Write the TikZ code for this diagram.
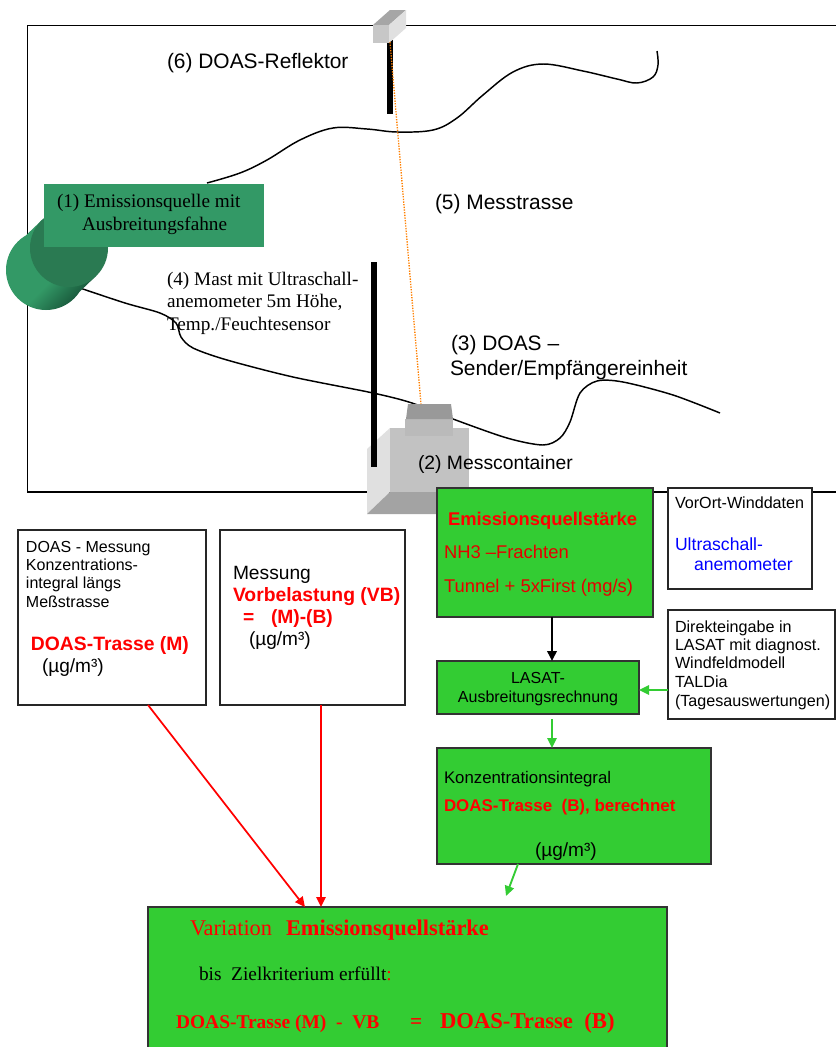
\documentclass[tikz,border=0pt]{standalone}
\usepackage{fontspec}
\setmainfont{Liberation Serif}
\setsansfont{Liberation Sans}
\usetikzlibrary{arrows.meta,calc}
\definecolor{tealg}{HTML}{339966}
\definecolor{boxg}{HTML}{33CC33}
\definecolor{cylm}{HTML}{339966}
\definecolor{cylb}{HTML}{1B5E3F}
\definecolor{cylf}{HTML}{2A7A52}
\pgfdeclarehorizontalshading{cylshade}{100bp}{color(0bp)=(cylm); color(56bp)=(cylm); color(72bp)=(cylb); color(100bp)=(cylb)}
\tikzset{
 x=0.75pt,y=-0.75pt,
 lbl/.style={anchor=base west,inner sep=0pt,outer sep=0pt,align=left},
 clbl/.style={anchor=base,inner sep=0pt,outer sep=0pt,align=center},
 sf/.style={font=\sffamily\fontsize{#1}{#1}\selectfont},
 rm/.style={font=\rmfamily\fontsize{#1}{#1}\selectfont},
 bsf/.style={font=\sffamily\bfseries\fontsize{#1}{#1}\selectfont},
 brm/.style={font=\rmfamily\bfseries\fontsize{#1}{#1}\selectfont},
 wbox/.style={draw=black!85,fill=white,line width=0.85pt},
 gbox/.style={draw=black!80,fill=boxg,line width=0.85pt},
 tip/.style={-{Triangle[length=7.5pt,width=7pt]}},
 redarrow/.style={tip,draw=red,line width=1.3pt},
 greenarrow/.style={tip,draw=boxg,line width=1.4pt},
 blackarrow/.style={tip,draw=black,line width=1.8pt},
 wave/.style={draw=black,line width=1.1pt},
 pole/.style={fill=black,draw=none},
}
\newcommand{\pbox}[6]{\node[#6,rectangle,inner sep=0pt,outer sep=0pt,minimum width={0.75pt*(#4-#2)},minimum height={0.75pt*(#5-#3)}] (#1) at ({(#2+#4)/2},{(#3+#5)/2}) {};}
\begin{document}
\begin{tikzpicture}
\useasboundingbox (0,0) rectangle (836,1047);
\clip (0,0) rectangle (836,1047);
\fill[white] (0,0) rectangle (836,1047);
% site frame
\draw[black,line width=1.1pt] (850,25.5) -- (27.5,25.5) -- (27.5,492) -- (850,492);
% plume curves
\draw[wave] plot[smooth,tension=0.6] coordinates {(207,183) (240,173) (267,160) (300,140) (333,128) (367,129) (397,132) (433,130) (457,118) (483,95) (513,72) (543,64) (583,71) (617,79) (637,83) (653,77) (658,65) (657,51)};
\draw[wave] plot[smooth,tension=0.5] coordinates {(77,287) (125,303) (160,313) (176,323) (181,337) (193,348) (227,360) (293,377) (373,393) (412,403) (453,419) (507,438) (543,445) (560,438) (570,422) (580,393) (597,381) (623,382) (673,395) (720,413)};
% source cylinder
\shade[shading=cylshade,shading angle=-45]
  (46,270) circle[radius=40]
  (19,242) -- (42,220) -- (96,276) -- (73,298) -- cycle;
\fill[cylf] (69,248) circle[radius=39];
\pbox{src}{44}{184}{264}{247}{fill=tealg}
% reflector
\fill[pole] (387,40) rectangle (393,114);
\fill[black!35] (373,25) -- (390,10) -- (406,10) -- (389,25) -- cycle;
\fill[black!12] (389,25) -- (406,10) -- (406,28) -- (389,43) -- cycle;
\fill[black!22] (373,25) rectangle (389,43);
% container
\fill[black!12] (367,449) -- (390,428) -- (390,492) -- (367,514) -- cycle;
\fill[black!36] (367,514) -- (390,492) -- (469,492) -- (469,514) -- cycle;
\fill[black!24] (390,428) rectangle (469,492);
\fill[black!27] (405,419) rectangle (453,436);
\fill[black!40] (406,419) -- (408,404) -- (451,404) -- (453,419) -- cycle;
% mast
\fill[pole] (371,262) rectangle (377,467);
% measurement path
\coordinate (refl) at (390,42);
\coordinate (sender) at (421,404);
\draw[orange,line width=1pt,densely dotted] (refl) -- (sender);
% boxes
\pbox{doas}{18}{530}{206}{705}{wbox}
\pbox{mess}{220}{530}{405}{705}{wbox}
\pbox{emis}{437}{488}{653}{617}{gbox}
\pbox{wind}{668}{488}{812}{589}{wbox}
\pbox{dire}{668}{610}{835}{719}{wbox}
\pbox{lasat}{437}{661}{639}{714}{gbox}
\pbox{konz}{437}{748}{711}{864}{gbox}
\pbox{vari}{148}{907}{667}{1070}{gbox}
% connectors
\draw[blackarrow] (emis.south -| 552,0) -- (lasat.north -| 552,0);
\draw[greenarrow] (dire.west |- 0,690) -- (lasat.east |- 0,690);
\coordinate (lasatout) at (552,719);
\draw[greenarrow] (lasatout) -- (konz.north -| 552,0);
\coordinate (konzend) at (506,896);
\draw[greenarrow] (konz.south -| 518,0) -- (konzend);
\draw[redarrow] (doas.south -| 148,0) -- (vari.north -| 305,0);
\draw[redarrow] (mess.south -| 321,0) -- (vari.north -| 321,0);
% labels in scene
\node[lbl,sf=15.7] (t6) at (167,68) {(6) DOAS-Reflektor};
\node[lbl,sf=15.7] (t5) at (435,209) {(5) Messtrasse};
\node[lbl,rm=14.4] (t1a) at (57,207) {(1) Emissionsquelle mit};
\node[lbl,rm=14.4] (t1b) at (82,230) {Ausbreitungsfahne};
\node[lbl,rm=14.4] (t4a) at (167,285) {(4) Mast mit Ultraschall-};
\node[lbl,rm=14.4] (t4b) at (167,307) {anemometer 5m Höhe,};
\node[lbl,rm=14.4] (t4c) at (167,330) {Temp./Feuchtesensor};
\node[lbl,sf=15.7] (t3a) at (451,350) {(3) DOAS –};
\node[lbl,sf=15.7] (t3b) at (450,375) {Sender/Empfängereinheit};
\node[lbl,sf=14.5] (t2) at (418,469) {(2) Messcontainer};
% Emission box
\node[lbl,bsf=13.8,text=red] (e1) at (448,525) {Emissionsquellstärke};
\node[lbl,sf=13.8,text=red!90!black] (e2) at (444,558) {NH3 –Frachten};
\node[lbl,sf=13.8,text=red!90!black] (e3) at (444,592) {Tunnel + 5xFirst (mg/s)};
% wind box
\node[lbl,sf=12.1] (w1) at (675,508) {VorOrt-Winddaten};
\node[lbl,sf=13.2,text=blue] (w2) at (675,550) {Ultraschall-};
\node[lbl,sf=13.2,text=blue] (w3) at (694,570) {anemometer};
% direct input
\node[lbl,sf=12.1] (d1) at (675,632) {Direkteingabe in};
\node[lbl,sf=12.1] (d2) at (675,650) {LASAT mit diagnost.};
\node[lbl,sf=12.1] (d3) at (675,668) {Windfeldmodell};
\node[lbl,sf=12.1] (d4) at (675,687) {TALDia};
\node[lbl,sf=12.1] (d5) at (675,706) {(Tagesauswertungen)};
% lasat
\node[clbl,sf=12] (l1) at (538,683) {LASAT-};
\node[clbl,sf=12] (l2) at (538,702) {Ausbreitungsrechnung};
% konz
\node[lbl,sf=12.6] (k1) at (444,783) {Konzentrationsintegral};
\node[lbl,bsf=12.7,text=red] (k2) at (444,811) {DOAS-Trasse\ \ (B), berechnet};
\node[lbl,sf=14.3] (k3) at (535,856) {(µg/m³)};
% left boxes
\node[lbl,sf=12] (a1) at (26,552) {DOAS - Messung};
\node[lbl,sf=12] (a2) at (26,570) {Konzentrations-};
\node[lbl,sf=12] (a3) at (26,588) {integral längs};
\node[lbl,sf=12] (a4) at (26,607) {Meßstrasse};
\node[lbl,bsf=14.5,text=red] (a5) at (31,650) {DOAS-Trasse (M)};
\node[lbl,sf=14.3] (a6) at (42,672) {(µg/m³)};
\node[lbl,sf=14.4] (b1) at (233,579) {Messung};
\node[lbl,bsf=14.5,text=red] (b2) at (233,601) {Vorbelastung (VB)};
\node[lbl,bsf=14.4,text=red] (b3) at (243,623) {=};
\node[lbl,bsf=14.4,text=red] (b4) at (271,623) {(M)-(B)};
\node[lbl,sf=14.3] (b5) at (249,645) {(µg/m³)};
% variation box
\node[lbl,rm=16.8,text=red] (v1) at (190,935) {Variation};
\node[lbl,brm=16.8,text=red] (v2) at (286,935) {Emissionsquellstärke};
\node[lbl,rm=14.5] (v3) at (199,980) {bis\ \ Zielkriterium erfüllt\textcolor{red}{:}};
\node[lbl,brm=14.6,text=red] (v4) at (176,1028) {DOAS-Trasse (M)\ \ -\ \ VB};
\node[lbl,brm=16,text=red] (v5) at (410,1028) {=};
\node[lbl,brm=17,text=red] (v6) at (440,1028) {DOAS-Trasse\ \ (B)};
\end{tikzpicture}
\end{document}
